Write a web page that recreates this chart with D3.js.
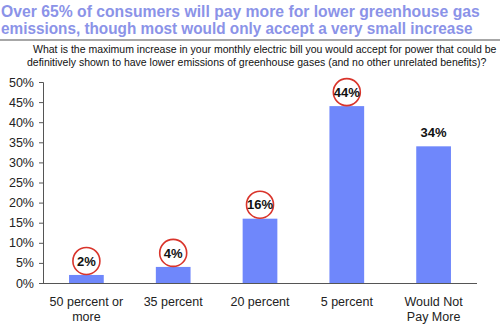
<!DOCTYPE html>
<html>
<head>
<meta charset="utf-8">
<script src="https://cdn.jsdelivr.net/npm/d3@7"></script>
<style>
  body { margin: 0; background: #fff; }
  text { font-family: "Liberation Sans", Arial, sans-serif; }
</style>
</head>
<body>
<div class="chart"></div>
<script>
const width = 500;
const height = 326;

// data
const categories = ["50 percent or more", "35 percent", "20 percent", "5 percent", "Would Not Pay More"];
const categoryLines = [["50 percent or", "more"], ["35 percent"], ["20 percent"], ["5 percent"], ["Would Not", "Pay More"]];
const shares = [2, 4, 16, 44, 34];
const circled = [true, true, true, true, false];
const yTicks = [0, 5, 10, 15, 20, 25, 30, 35, 40, 45, 50];
const titleLines = [
  "Over 65% of consumers will pay more for lower greenhouse gas",
  "emissions, though most would only accept a very small increase",
];
const subtitleLines = [
  "What is the maximum increase in your monthly electric bill you would accept for power that could be",
  "definitively shown to have lower emissions of greenhouse gases (and no other unrelated benefits)?",
];

const svg = d3
  .select(".chart")
  .append("svg")
  .attr("width", width)
  .attr("height", height);

// squeeze a text horizontally so it spans `target` px starting at x0
function fitWidth(sel, x0, target) {
  sel.each(function (d, i) {
    const w = this.getComputedTextLength();
    const k = Math.min(1, target[i] / w);
    d3.select(this)
      .attr("x", 0)
      .attr("transform", "translate(" + x0[i] + ",0) scale(" + k + ",1)");
  });
}

// title
const title = svg
  .selectAll(".title")
  .data(titleLines)
  .enter()
  .append("text")
  .attr("class", "title")
  .attr("y", (d, i) => 17 + i * 17)
  .attr("font-size", 16.5)
  .attr("font-weight", "bold")
  .attr("fill", "#8b93e8")
  .text((d) => d);
fitWidth(title, [1, 1], [479, 472]);

svg
  .append("line")
  .attr("x1", 0)
  .attr("x2", width)
  .attr("y1", 40)
  .attr("y2", 40)
  .attr("stroke", "#8a8a8a")
  .attr("stroke-width", 1.5);

const subtitle = svg
  .selectAll(".subtitle")
  .data(subtitleLines)
  .enter()
  .append("text")
  .attr("class", "subtitle")
  .attr("y", (d, i) => 53 + i * 12.5)
  .attr("font-size", 10.5)
  .attr("fill", "#111")
  .text((d) => d);
fitWidth(subtitle, [33, 27], [464, 461]);

// scales
const xScale = d3
  .scaleBand()
  .domain(categories)
  .range([43, 477])
  .paddingInner(0.6)
  .paddingOuter(0.3);

const yScale = d3.scaleLinear().domain([0, 50]).range([283, 82]);

// y axis
const yAxis = d3
  .axisLeft(yScale)
  .tickValues(yTicks)
  .tickSize(4)
  .tickPadding(5)
  .tickFormat((d) => d + "%");
const gy = svg.append("g").attr("transform", "translate(43,0)").call(yAxis);
gy.select(".domain").attr("stroke", "#555");
gy.selectAll(".tick line").attr("stroke", "#555");
gy.selectAll(".tick text")
  .attr("font-size", 12.5)
  .attr("font-family", "'Liberation Sans', Arial, sans-serif")
  .attr("fill", "#222");

// x axis line
svg
  .append("line")
  .attr("x1", 43)
  .attr("x2", 477)
  .attr("y1", yScale(0) + 0.5)
  .attr("y2", yScale(0) + 0.5)
  .attr("stroke", "#555");

// bars
svg
  .append("g")
  .selectAll("rect")
  .data(shares)
  .enter()
  .append("rect")
  .attr("x", (d, i) => xScale(categories[i]))
  .attr("y", (d) => yScale(d))
  .attr("width", xScale.bandwidth())
  .attr("height", (d) => yScale(0) - yScale(d))
  .attr("fill", "#6f87fb");

// red circles
svg
  .append("g")
  .selectAll("circle")
  .data(shares)
  .enter()
  .filter((d, i) => circled[i])
  .append("circle")
  .attr("cx", (d) => xScale(categories[shares.indexOf(d)]) + xScale.bandwidth() / 2)
  .attr("cy", (d) => yScale(d) - 14)
  .attr("r", 13.5)
  .attr("fill", "none")
  .attr("stroke", "#d9342b")
  .attr("stroke-width", 1.6);

// value labels
svg
  .append("g")
  .selectAll("text")
  .data(shares)
  .enter()
  .append("text")
  .attr("x", (d, i) => xScale(categories[i]) + xScale.bandwidth() / 2)
  .attr("y", (d) => yScale(d) - 14)
  .attr("dy", "0.36em")
  .attr("text-anchor", "middle")
  .attr("font-size", 13)
  .attr("font-weight", "bold")
  .attr("fill", "#111")
  .text((d) => d + "%");

// category labels
const xl = svg
  .append("g")
  .selectAll("text")
  .data(categoryLines)
  .enter()
  .append("text")
  .attr("x", (d, i) => xScale(categories[i]) + xScale.bandwidth() / 2)
  .attr("y", 306)
  .attr("text-anchor", "middle")
  .attr("font-size", 12.5)
  .attr("fill", "#222");
xl.selectAll("tspan")
  .data((d) => d)
  .enter()
  .append("tspan")
  .attr("x", function () {
    return d3.select(this.parentNode).attr("x");
  })
  .attr("dy", (d, i) => (i === 0 ? 0 : 15))
  .text((d) => d);
</script>
</body>
</html>
